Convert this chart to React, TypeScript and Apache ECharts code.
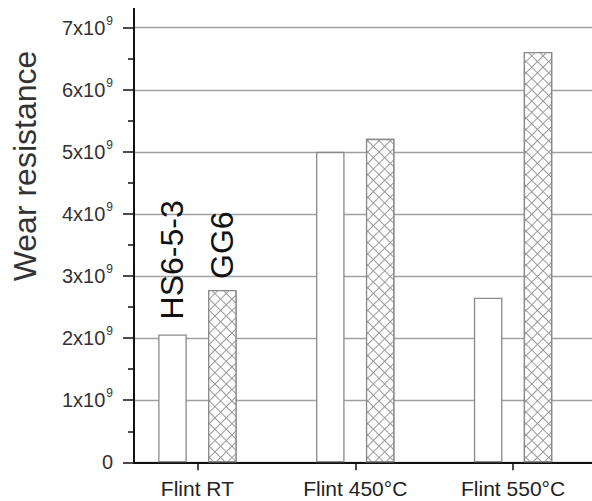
import React, { useEffect, useRef } from "react";
import * as echarts from "echarts";

const categories = ["Flint RT", "Flint 450°C", "Flint 550°C"];
const seriesNames = ["HS6-5-3", "GG6"];
const hsValues = [2.06e9, 5.0e9, 2.65e9];
const ggValues = [2.775e9, 5.21e9, 6.61e9];
const yTitle = "Wear resistance";
const yMin = 0;
const yMax = 7e9;
const yInterval = 1e9;

const FONT = "'Liberation Sans', Arial, Helvetica, sans-serif";

export default function App() {
  const ref = useRef<HTMLDivElement>(null);
  useEffect(() => {
    if (!ref.current) return;
    const chart = echarts.init(ref.current, undefined, { renderer: "svg" });
    const gridTop = 27.7;
    const gridBottom = 38.7;
    const labelFor = (name: string, distance: number) => ({
      show: true,
      position: "top",
      rotate: 90,
      align: "left",
      verticalAlign: "middle",
      distance,
      fontSize: 32,
      fontFamily: FONT,
      color: "#111",
      formatter: name,
    });
    const option: any = {
      animation: false,
      backgroundColor: "#fff",
      textStyle: { fontFamily: FONT },
      grid: [
        { left: 134, right: 0, top: gridTop, bottom: gridBottom },
        { left: 118.5, right: 0, top: gridTop, bottom: gridBottom },
      ],
      xAxis: [
        {
          gridIndex: 0,
          type: "value",
          min: 0,
          max: 1,
          axisLine: { show: true, lineStyle: { color: "#111", width: 2 } },
          axisTick: { show: false },
          axisLabel: { show: false },
          splitLine: { show: false },
        },
        {
          gridIndex: 1,
          type: "category",
          data: categories,
          boundaryGap: true,
          axisLine: { show: false },
          axisTick: {
            show: true,
            alignWithLabel: true,
            length: 8,
            lineStyle: { color: "#111", width: 1.5 },
          },
          axisLabel: {
            fontSize: 21,
            color: "#222",
            fontFamily: FONT,
            margin: 16,
          },
          splitLine: { show: false },
        },
      ],
      yAxis: [
        {
          gridIndex: 0,
          type: "value",
          min: yMin,
          max: yMax,
          interval: yInterval,
          axisLine: { show: true, lineStyle: { color: "#111", width: 2 } },
          axisTick: { show: true, length: 11, lineStyle: { color: "#111", width: 1.5 } },
          minorTick: { show: true, splitNumber: 2, length: 6, lineStyle: { color: "#111", width: 1.5 } },
          splitLine: { show: true, lineStyle: { color: "#a0a0a0", width: 1.3 } },
          axisLabel: {
            margin: 21,
            formatter: (v: number) =>
              v === 0 ? "{b|0}" : `{b|${Math.round(v / 1e9)}x10}{s|9}`,
            rich: {
              b: { fontSize: 20, color: "#333", fontFamily: FONT },
              s: { fontSize: 12, color: "#333", fontFamily: FONT, padding: [0, 0, 14, 1] },
            },
          },
        },
        {
          gridIndex: 1,
          type: "value",
          min: yMin,
          max: yMax,
          show: false,
          splitLine: { show: false },
        },
      ],
      graphic: [
        {
          type: "line",
          shape: { x1: 134, y1: 8, x2: 134, y2: 28 },
          style: { stroke: "#111", lineWidth: 2 },
        },
        {
          type: "text",
          x: 25,
          y: 166,
          rotation: Math.PI / 2,
          style: {
            text: yTitle,
            fontSize: 32,
            fontFamily: FONT,
            fill: "#333",
            align: "center",
            verticalAlign: "middle",
          },
        },
      ],
      series: [
        {
          name: seriesNames[0],
          type: "bar",
          xAxisIndex: 1,
          yAxisIndex: 1,
          barWidth: 28.5,
          barGap: "75%",
          data: hsValues.map((v, i) =>
            i === 0 ? { value: v, label: labelFor(seriesNames[0], 15) } : v
          ),
          itemStyle: { color: "#fff", borderColor: "#8a8a8a", borderWidth: 1.3 },
        },
        {
          name: seriesNames[1],
          type: "bar",
          xAxisIndex: 1,
          yAxisIndex: 1,
          barWidth: 28.5,
          barGap: "75%",
          data: ggValues.map((v, i) =>
            i === 0 ? { value: v, label: labelFor(seriesNames[1], 11) } : v
          ),
          itemStyle: {
            color: "#9a9a9a",
            borderColor: "#8a8a8a",
            borderWidth: 1.3,
            decal: {
              symbol: "rect",
              symbolSize: 1,
              color: "#ffffff",
              dashArrayX: [6.5, 1],
              dashArrayY: [6.5, 1],
              rotation: Math.PI / 4,
            },
          },
        },
      ],
    };
    chart.setOption(option);
    return () => chart.dispose();
  }, []);
  return (
    <div
      ref={ref}
      style={{ position: "fixed", left: 0, top: 0, width: 592, height: 501 }}
    />
  );
}
